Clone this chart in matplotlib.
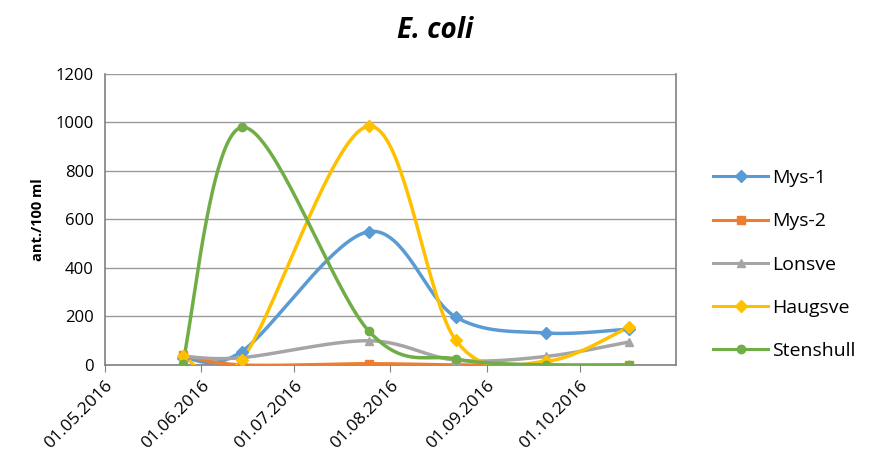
import numpy as np
import pandas as pd
import matplotlib
matplotlib.use("Agg")
import matplotlib.pyplot as plt
import matplotlib.dates as mdates

dates = pd.to_datetime(["2016-05-26", "2016-06-14", "2016-07-25",
                        "2016-08-22", "2016-09-20", "2016-10-17"])
mys1 = [30, 55, 550, 198, 132, 148]
mys2 = [40, 0, 5, 0, 0, 0]
lonsve = [35, 30, 100, 20, 35, 95]
haugsve = [35, 20, 985, 103, 15, 157]
stenshull = [5, 980, 140, 25, 0, 0]

names = ["Mys-1", "Mys-2", "Lonsve", "Haugsve", "Stenshull"]
colors = ["#5B9BD5", "#ED7D31", "#A5A5A5", "#FFC000", "#70AD47"]
markers = ["D", "s", "^", "D", "o"]


def smooth(x, y, n=40):
    # excel-like smoothed line: cubic bezier, control points from neighbours / 6
    x = np.asarray(x, float)
    y = np.asarray(y, float)
    px = np.concatenate([[x[0]], x, [x[-1]]])
    py = np.concatenate([[y[0]], y, [y[-1]]])
    xs, ys = [], []
    t = np.linspace(0, 1, n)
    for i in range(len(x) - 1):
        p0 = np.array([x[i], y[i]])
        p3 = np.array([x[i + 1], y[i + 1]])
        p1 = p0 + (np.array([px[i + 2], py[i + 2]]) - np.array([px[i], py[i]])) / 6
        p2 = p3 - (np.array([px[i + 3], py[i + 3]]) - np.array([px[i + 1], py[i + 1]])) / 6
        b = ((1 - t) ** 3)[:, None] * p0 + (3 * (1 - t) ** 2 * t)[:, None] * p1 \
            + (3 * (1 - t) * t ** 2)[:, None] * p2 + (t ** 3)[:, None] * p3
        xs.extend(b[:, 0])
        ys.extend(b[:, 1])
    return np.array(xs), np.array(ys)


plt.rcParams["font.family"] = ["Open Sans", "DejaVu Sans"]
fig = plt.figure(figsize=(8.7, 4.63), dpi=100)
ax = fig.add_axes([0.1207, 0.2117, 0.6563, 0.6285])

xnum = mdates.date2num(dates)
for vals, name, c, m in zip([mys1, mys2, lonsve, haugsve, stenshull], names, colors, markers):
    sx, sy = smooth(xnum, vals)
    ax.plot(sx, sy, color=c, lw=2.5, zorder=3)
    ax.plot(xnum, vals, ls="none", marker=m, color=c, ms=6, zorder=4)
    ax.plot([], [], color=c, lw=2.2, marker=m, ms=6, label=name)

ax.set_xlim(mdates.date2num(pd.Timestamp("2016-05-01")), mdates.date2num(pd.Timestamp("2016-11-01")))
ax.set_ylim(0, 1200)
ax.set_yticks(range(0, 1201, 200))
ax.xaxis.set_major_locator(mdates.MonthLocator(bymonthday=1))
ax.xaxis.set_major_formatter(mdates.DateFormatter("%d.%m.%Y"))
ticks = ax.get_xticks()
ax.set_xticks(ticks[:-1])
plt.setp(ax.get_xticklabels(), rotation=45, ha="right", rotation_mode="anchor", fontsize=12.5)
ax.tick_params(axis="y", length=0, labelsize=12, pad=8)
ax.tick_params(axis="x", length=5, color="#808080", pad=4)
ax.grid(axis="y", color="#9a9a9a", lw=1)
ax.set_axisbelow(True)
for s in ["left", "bottom", "right"]:
    ax.spines[s].set_color("#808080")
    ax.spines[s].set_linewidth(1.2)
ax.spines["top"].set_visible(False)

ax.set_ylabel("ant./100 ml", fontsize=10.5, fontweight="bold", labelpad=8)
fig.text(0.5, 0.935, "E. coli", ha="center", va="center", fontsize=20,
         fontweight="bold", style="italic")

ax.legend(loc="center left", bbox_to_anchor=(1.035, 0.345), frameon=False,
          fontsize=14, labelspacing=1.3, handlelength=2.8, handletextpad=0.2)

fig.savefig("out.png", dpi=100)
